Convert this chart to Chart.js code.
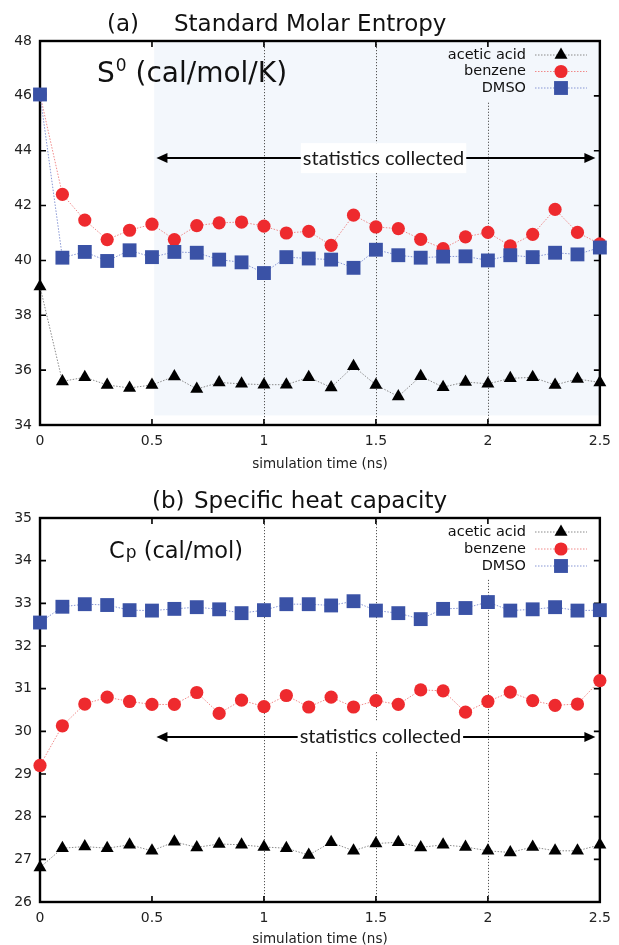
<!DOCTYPE html>
<html>
<head>
<meta charset="utf-8">
<script src="https://cdn.jsdelivr.net/npm/chart.js@4/dist/chart.umd.min.js"></script>
<style>
  body { margin: 0; background: #fff; width: 619px; height: 945px; overflow: hidden; position: relative; }
  canvas { position: absolute; left: 0; }
  #entropyChart { top: 0; }
  #heatChart { top: 472px; }
</style>
</head>
<body>
<canvas id="entropyChart" width="619" height="480"></canvas>
<canvas id="heatChart" width="619" height="480"></canvas>
<script>
// simulation time (ns)
const times = [0, 0.1, 0.2, 0.3, 0.4, 0.5, 0.6, 0.7, 0.8, 0.9, 1.0, 1.1, 1.2, 1.3, 1.4, 1.5, 1.6, 1.7, 1.8, 1.9, 2.0, 2.1, 2.2, 2.3, 2.4, 2.5];
const seriesNames = ["acetic acid", "benzene", "DMSO"];
const timeTicks = [0, 0.5, 1, 1.5, 2, 2.5];

// (a) standard molar entropy, cal/mol/K
const entropyAcetic = [39.05, 35.59, 35.74, 35.46, 35.35, 35.46, 35.77, 35.31, 35.55, 35.50, 35.47, 35.47, 35.74, 35.37, 36.14, 35.46, 35.04, 35.78, 35.38, 35.57, 35.50, 35.70, 35.74, 35.46, 35.68, 35.55];
const entropyBenzene = [46.05, 42.41, 41.47, 40.76, 41.10, 41.32, 40.76, 41.27, 41.37, 41.40, 41.25, 41.00, 41.06, 40.55, 41.65, 41.22, 41.16, 40.77, 40.43, 40.86, 41.02, 40.53, 40.95, 41.86, 41.02, 40.60];
const entropyDmso = [46.05, 40.10, 40.31, 39.98, 40.37, 40.12, 40.31, 40.28, 40.03, 39.93, 39.54, 40.12, 40.07, 40.03, 39.73, 40.39, 40.19, 40.10, 40.14, 40.15, 40.00, 40.19, 40.12, 40.28, 40.22, 40.47];
const entropyTicks = [34, 36, 38, 40, 42, 44, 46, 48];

// (b) specific heat capacity, cal/mol
const heatAcetic = [26.81, 27.26, 27.30, 27.26, 27.34, 27.20, 27.41, 27.28, 27.36, 27.34, 27.29, 27.26, 27.10, 27.40, 27.20, 27.37, 27.40, 27.28, 27.34, 27.29, 27.20, 27.16, 27.29, 27.20, 27.20, 27.34];
const heatBenzene = [29.20, 30.13, 30.64, 30.80, 30.70, 30.63, 30.63, 30.91, 30.42, 30.73, 30.58, 30.84, 30.57, 30.80, 30.57, 30.72, 30.63, 30.97, 30.95, 30.45, 30.70, 30.92, 30.72, 30.61, 30.64, 31.19];
const heatDmso = [32.55, 32.92, 32.98, 32.96, 32.84, 32.83, 32.87, 32.91, 32.86, 32.77, 32.84, 32.98, 32.98, 32.95, 33.05, 32.83, 32.77, 32.63, 32.87, 32.89, 33.03, 32.83, 32.86, 32.91, 32.83, 32.84];
const heatTicks = [26, 27, 28, 29, 30, 31, 32, 33, 34, 35];

const FONT = "'DejaVu Sans', sans-serif";

const styles = [
  { color: "#000000", line: "#8a8a8a", shape: "triangle", radius: 7.5 },
  { color: "#ee2a2e", line: "#f08a8a", shape: "circle", radius: 6.6 },
  { color: "#3a52a6", line: "#8796d4", shape: "rect", radius: 9.8 }
];

function makeSets(values) {
  return values.map((vals, i) => ({
    label: seriesNames[i],
    data: times.map((t, k) => ({ x: t, y: vals[k] })),
    borderColor: styles[i].line,
    borderWidth: 1,
    borderDash: [1.5, 1.5],
    pointStyle: styles[i].shape,
    pointRadius: styles[i].radius,
    pointBackgroundColor: styles[i].color,
    pointBorderColor: styles[i].color,
    pointBorderWidth: 0,
    clip: false,
    order: 2 - i
  }));
}

function drawMarker(ctx, shape, r, x, y, color) {
  ctx.fillStyle = color;
  ctx.beginPath();
  if (shape === "circle") {
    ctx.arc(x, y, r, 0, Math.PI * 2);
  } else if (shape === "rect") {
    const s = r * Math.SQRT1_2;
    ctx.rect(x - s, y - s, 2 * s, 2 * s);
  } else {
    ctx.moveTo(x, y - r);
    ctx.lineTo(x + r * Math.sin(Math.PI / 3), y + r * 0.5);
    ctx.lineTo(x - r * Math.sin(Math.PI / 3), y + r * 0.5);
    ctx.closePath();
  }
  ctx.fill();
}

const decor = {
  id: "decor",
  beforeDatasetsDraw(chart, args, o) {
    const { ctx, chartArea: a, scales: { x, y } } = chart;
    ctx.save();
    // light blue band where statistics are collected
    if (o.shade) {
      const x0 = x.getPixelForValue(o.shade[0]);
      ctx.fillStyle = "#f3f7fc";
      ctx.fillRect(x0, a.top, a.right - x0, y.getPixelForValue(o.shade[1]) - a.top);
    }
    // dotted vertical grid lines
    ctx.strokeStyle = "#555";
    ctx.lineWidth = 1;
    ctx.setLineDash([1.2, 1.8]);
    o.grid.forEach(([v, top]) => {
      const px = Math.round(x.getPixelForValue(v)) + 0.5;
      ctx.beginPath();
      ctx.moveTo(px, top == null ? a.top : y.getPixelForValue(top));
      ctx.lineTo(px, a.bottom);
      ctx.stroke();
    });
    ctx.setLineDash([]);

    // double arrow "statistics collected"
    const ay = y.getPixelForValue(o.arrow.y);
    const x0 = x.getPixelForValue(o.arrow.from), x1 = x.getPixelForValue(o.arrow.to);
    ctx.strokeStyle = "#000";
    ctx.fillStyle = "#000";
    ctx.lineWidth = 2;
    ctx.beginPath(); ctx.moveTo(x0 + 8, ay); ctx.lineTo(x1 - 8, ay); ctx.stroke();
    [[x0, 1], [x1, -1]].forEach(([tip, dir]) => {
      ctx.beginPath();
      ctx.moveTo(tip, ay);
      ctx.lineTo(tip + dir * 11, ay - 5);
      ctx.lineTo(tip + dir * 11, ay + 5);
      ctx.closePath();
      ctx.fill();
    });
    ctx.font = "20px Lato, sans-serif";
    const tw = ctx.measureText(o.arrow.text).width;
    const tx = x.getPixelForValue(o.arrow.textX);
    ctx.fillStyle = "#fff";
    ctx.fillRect(tx - tw / 2 - 2, ay - 15, tw + 4, 30);
    ctx.fillStyle = "#1a1a1a";
    ctx.textAlign = "center";
    ctx.textBaseline = "middle";
    ctx.fillText(o.arrow.text, tx, ay);

    // frame and inward ticks
    ctx.strokeStyle = "#000";
    ctx.lineWidth = 2.4;
    ctx.strokeRect(a.left, a.top, a.right - a.left, a.bottom - a.top);
    ctx.lineWidth = 1.6;
    ctx.beginPath();
    x.ticks.forEach(t => {
      const px = x.getPixelForValue(t.value);
      ctx.moveTo(px, a.bottom); ctx.lineTo(px, a.bottom - 6);
      ctx.moveTo(px, a.top); ctx.lineTo(px, a.top + 6);
    });
    y.ticks.forEach(t => {
      const py = y.getPixelForValue(t.value);
      ctx.moveTo(a.left, py); ctx.lineTo(a.left + 6, py);
      ctx.moveTo(a.right, py); ctx.lineTo(a.right - 6, py);
    });
    ctx.stroke();
    ctx.restore();
  },
  afterDatasetsDraw(chart, args, o) {
    const { ctx, chartArea: a } = chart;
    ctx.save();
    // legend: text on the left, sample on the right
    ctx.font = "14.5px " + FONT;
    ctx.textAlign = "right";
    ctx.textBaseline = "middle";
    chart.data.datasets.forEach((ds, i) => {
      const ry = a.top + o.legendRows[i];
      ctx.fillStyle = "#111";
      ctx.fillText(ds.label, 526, ry);
      ctx.strokeStyle = styles[i].line;
      ctx.lineWidth = 1;
      ctx.setLineDash([1.5, 1.5]);
      ctx.beginPath(); ctx.moveTo(535, ry); ctx.lineTo(587, ry); ctx.stroke();
      ctx.setLineDash([]);
      drawMarker(ctx, styles[i].shape, styles[i].radius, 561, ry, styles[i].color);
    });

    // panel title
    ctx.textAlign = "left";
    ctx.textBaseline = "alphabetic";
    ctx.fillStyle = "#111";
    ctx.font = "23px " + FONT;
    ctx.fillText(o.title[0], o.title[2], o.title[4]);
    ctx.fillText(o.title[1], o.title[3], o.title[4]);

    // quantity label
    const q = o.quantity;
    ctx.font = q.size + "px " + FONT;
    ctx.fillText(q.main, q.x, q.y);
    let cx = q.x + ctx.measureText(q.main).width + 1;
    ctx.font = q.smallSize + "px " + FONT;
    ctx.fillText(q.small, cx, q.y + q.smallShift);
    cx += ctx.measureText(q.small).width;
    ctx.font = q.size + "px " + FONT;
    ctx.fillText(q.rest, cx, q.y);
    ctx.restore();
  }
};

function makeChart(id, values, yTicks, extra) {
  return new Chart(document.getElementById(id), {
    type: "line",
    data: { datasets: makeSets(values) },
    plugins: [decor],
    options: {
      responsive: false,
      animation: false,
      layout: { padding: { top: extra.top, right: 16, left: 0, bottom: 0 } },
      plugins: {
        legend: { display: false },
        tooltip: { enabled: false },
        decor: extra.decor
      },
      scales: {
        x: {
          type: "linear",
          min: 0,
          max: 2.5,
          afterBuildTicks: s => { s.ticks = timeTicks.map(v => ({ value: v })); },
          afterFit: s => { s.height = extra.xHeight; },
          grid: { display: false, drawTicks: false },
          border: { display: false },
          ticks: { padding: 8, color: "#222", font: { family: FONT, size: 14 }, callback: v => String(v), maxRotation: 0 },
          title: { display: true, text: "simulation time (ns)", color: "#222", font: { family: FONT, size: 13.5 }, padding: { top: 0, bottom: extra.titlePad } }
        },
        y: {
          min: yTicks[0],
          max: yTicks[yTicks.length - 1],
          afterBuildTicks: s => { s.ticks = yTicks.map(v => ({ value: v })); },
          afterFit: s => { s.width = 40; },
          grid: { display: false, drawTicks: false },
          border: { display: false },
          ticks: { padding: 8, color: "#222", font: { family: FONT, size: 14 } }
        }
      }
    }
  });
}

makeChart("entropyChart", [entropyAcetic, entropyBenzene, entropyDmso], entropyTicks, {
  top: 41, xHeight: 55, titlePad: 7,
  decor: {
    shade: [0.51, 34.35],
    grid: [[1, null], [1.5, null], [2, 45.75]],
    arrow: { y: 43.73, from: 0.52, to: 2.48, textX: 1.534, text: "statistics collected" },
    legendRows: [14, 30.5, 47],
    title: ["(a)", "Standard Molar Entropy", 107, 174, 31],
    quantity: { main: "S", small: "0", rest: " (cal/mol/K)", x: 97, y: 82, size: 28, smallSize: 17, smallShift: -11 }
  }
});

makeChart("heatChart", [heatAcetic, heatBenzene, heatDmso], heatTicks, {
  top: 46, xHeight: 50, titlePad: 4,
  decor: {
    shade: null,
    grid: [[1, null], [1.5, null], [2, 33.55]],
    arrow: { y: 29.87, from: 0.52, to: 2.48, textX: 1.52, text: "statistics collected" },
    legendRows: [14, 31, 48],
    title: ["(b)", "Specific heat capacity", 152, 194, 36],
    quantity: { main: "C", small: "p", rest: " (cal/mol)", x: 109, y: 86, size: 22.5, smallSize: 17, smallShift: 0 }
  }
});
</script>
</body>
</html>
